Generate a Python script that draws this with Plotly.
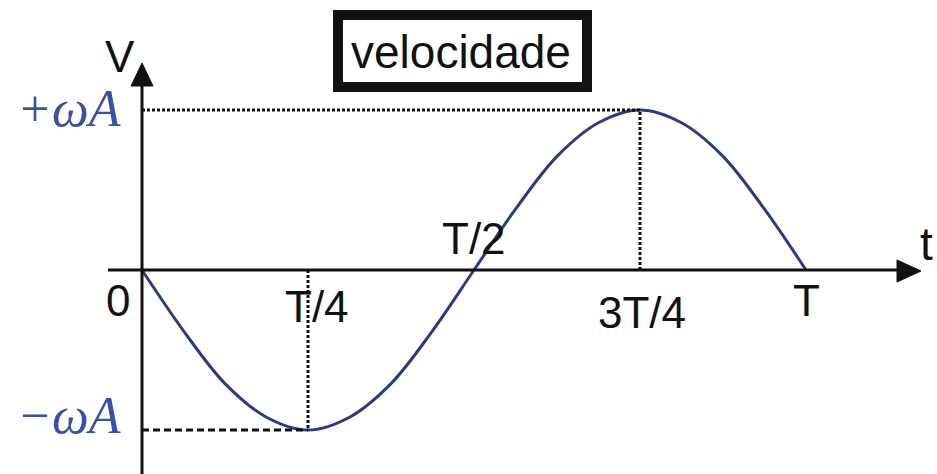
import plotly.graph_objects as go

# ---- data (time in units of T, velocity in units of omega*A) ----
t_vals = [0.0, 0.0625, 0.125, 0.1875, 0.25, 0.3125, 0.375, 0.4375, 0.5,
          0.5625, 0.625, 0.6875, 0.75, 0.8125, 0.875, 0.9375, 1.0]
v_vals = [0.0, -0.38, -0.71, -0.92, -1.0, -0.92, -0.71, -0.38, 0.0,
          0.38, 0.71, 0.92, 1.0, 0.92, 0.71, 0.38, 0.0]
tick_pos = [0.0, 0.25, 0.5, 0.75, 1.0]
tick_text = ["0", "T/4", "T/2", "3T/4", "T"]
v_levels = [1.0, -1.0]
v_text = ["+ωA", "−ωA"]
title_text = "velocidade"

W, H = 937, 474
X0, XS = 142, 664      # pixel of t=0, pixels per T
Y0, YS = 270, 160      # pixel of v=0, pixels per omega*A


def X(px):
    return (px - X0) / XS


def Y(py):
    return (Y0 - py) / YS


CURVE = "#2b3b85"
LBL = "#3b4fa6"
BLACK = "#111111"

fig = go.Figure()
fig.add_trace(go.Scatter(x=t_vals, y=v_vals, mode="lines",
                         line=dict(color=CURVE, width=3, shape="spline", smoothing=1.0),
                         hoverinfo="skip", showlegend=False))

shapes = []
# guide lines
t_max = t_vals[v_vals.index(max(v_vals))]
t_min = t_vals[v_vals.index(min(v_vals))]
shapes.append(dict(type="line", x0=0, x1=t_max, y0=max(v_vals), y1=max(v_vals),
                   line=dict(color=BLACK, width=3, dash="3px,2px")))
shapes.append(dict(type="line", x0=t_max, x1=t_max, y0=0, y1=max(v_vals),
                   line=dict(color=BLACK, width=3, dash="3px,2px")))
shapes.append(dict(type="line", x0=0, x1=t_min, y0=min(v_vals), y1=min(v_vals),
                   line=dict(color=BLACK, width=3, dash="7px,4px")))
shapes.append(dict(type="line", x0=t_min, x1=t_min, y0=0, y1=min(v_vals),
                   line=dict(color=BLACK, width=3, dash="3px,2px")))
# axes
shapes.append(dict(type="line", x0=X(108), x1=X(900), y0=0, y1=0,
                   line=dict(color=BLACK, width=3)))
shapes.append(dict(type="path",
                   path=f"M {X(921)} {Y(271)} L {X(897)} {Y(260)} L {X(897)} {Y(282)} Z",
                   fillcolor=BLACK, line=dict(color=BLACK, width=1)))
shapes.append(dict(type="line", x0=0, x1=0, y0=Y(480), y1=Y(84),
                   line=dict(color=BLACK, width=3)))
shapes.append(dict(type="path",
                   path=f"M {X(142)} {Y(63)} L {X(131)} {Y(86)} L {X(153)} {Y(86)} Z",
                   fillcolor=BLACK, line=dict(color=BLACK, width=1)))
# title box
shapes.append(dict(type="rect", x0=X(338), x1=X(587), y0=Y(15), y1=Y(87),
                   line=dict(color=BLACK, width=10), fillcolor="white"))

ann = []
SANS = "Liberation Sans, Arial, sans-serif"
SERIF = "Liberation Serif, Times New Roman, serif"
# tick labels (pixel offsets relative to tick position)
offsets = [(-24, 30), (9, 36), (0, -32), (2, 42), (0, 30)]
for p, txt, (dx, dy) in zip(tick_pos, tick_text, offsets):
    ann.append(dict(x=X(X0 + p * XS + dx), y=Y(Y0 + dy), text=txt, showarrow=False,
                    xanchor="center", yanchor="middle",
                    font=dict(family=SANS, size=44, color=BLACK)))
# value labels
for lv, txt, dy in zip(v_levels, v_text, [-2, -15]):
    ann.append(dict(x=X(123), y=Y(Y0 - lv * YS + dy), text=f"<i>{txt}</i>", showarrow=False,
                    xanchor="right", yanchor="middle",
                    font=dict(family=SERIF, size=52, color=LBL)))
# axis names
ann.append(dict(x=X(120), y=Y(56), text="V", showarrow=False, xanchor="center",
                yanchor="middle", font=dict(family=SANS, size=44, color=BLACK)))
ann.append(dict(x=X(926), y=Y(244), text="t", showarrow=False, xanchor="center",
                yanchor="middle", font=dict(family=SANS, size=46, color=BLACK)))
# title
ann.append(dict(x=X(461), y=Y(52), text=title_text, showarrow=False, xanchor="center",
                yanchor="middle", font=dict(family=SANS, size=46, color=BLACK)))

fig.update_layout(
    width=W, height=H, margin=dict(l=0, r=0, t=0, b=0),
    paper_bgcolor="white", plot_bgcolor="white",
    xaxis=dict(range=[X(0), X(W)], visible=False, fixedrange=True),
    yaxis=dict(range=[Y(H), Y(0)], visible=False, fixedrange=True),
    shapes=shapes, annotations=ann, showlegend=False,
)

fig.write_html("out.html", config={"displayModeBar": False},
               post_script="document.body.style.margin='0';document.body.style.overflow='hidden';")
